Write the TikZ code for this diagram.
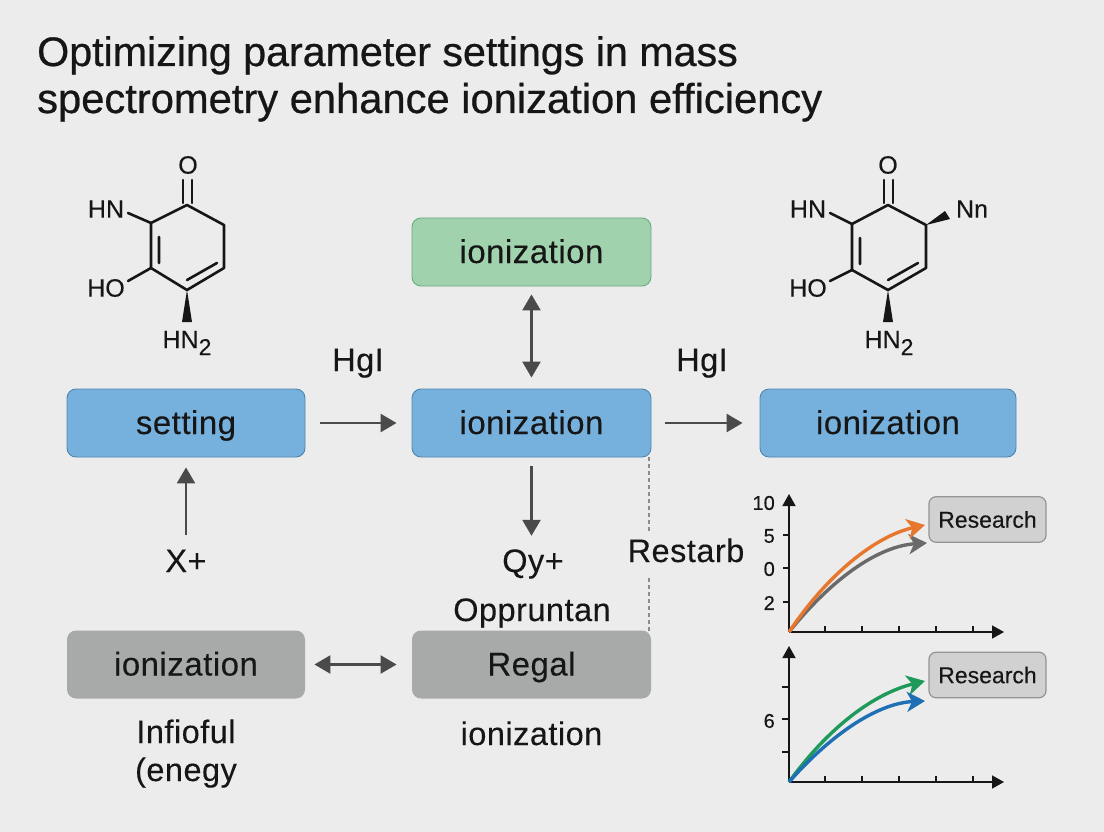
\documentclass[tikz,border=0pt]{standalone}
\usepackage{fontspec}
\setmainfont{Liberation Sans}
\newfontfamily\titlefont[FakeBold=0.6]{Liberation Sans}
\newfontfamily\boxfont[LetterSpace=1.5,FakeBold=0.2]{Liberation Sans}
\newfontfamily\atomfont[FakeBold=0.2]{Liberation Sans}
\usetikzlibrary{arrows.meta}
\definecolor{bgc}{HTML}{ECECEC}
\definecolor{bluef}{HTML}{76B0DC}
\definecolor{blued}{HTML}{4F86B0}
\definecolor{greenf}{HTML}{A0D2AE}
\definecolor{greend}{HTML}{6BAA80}
\definecolor{grayf}{HTML}{A8AAAA}
\definecolor{ink}{HTML}{161616}
\definecolor{conn}{HTML}{4A4A4A}
\definecolor{orangec}{HTML}{E8772E}
\definecolor{grayc}{HTML}{6A6A6A}
\definecolor{greenc}{HTML}{1E9A5A}
\definecolor{bluec}{HTML}{1F6FB5}
\tikzset{
  x=1pt,y=-1pt,
  flowbox/.style={rounded corners=9pt,minimum height=68pt,text=ink,font=\boxfont\fontsize{33}{36}\selectfont,inner sep=0pt,line width=0.9pt,text height=28pt,text depth=6pt},
  bluebox/.style={flowbox,fill=bluef,draw=blued},
  greenbox/.style={flowbox,fill=greenf,draw=greend},
  graybox/.style={flowbox,fill=grayf,draw=none},
  lab/.style={text=ink,font=\boxfont\fontsize{32.5}{36}\selectfont,inner sep=0pt,text height=22pt,text depth=2pt},
  atom/.style={text=ink,font=\atomfont\fontsize{25}{30}\selectfont,inner sep=0pt},
  small/.style={text=ink,font=\atomfont\fontsize{20}{24}\selectfont,inner sep=0pt},
  flow/.style={draw=conn,line width=2.6pt,-{Triangle[length=16pt,width=18pt]}},
  flowboth/.style={draw=conn,line width=2.6pt,{Triangle[length=16pt,width=18pt]}-{Triangle[length=16pt,width=18pt]}},
  bond/.style={draw=ink,line width=2.6pt,line cap=round},
  axis/.style={draw=ink,line width=1.7pt,-{Triangle[length=12pt,width=13pt]}},
  tick/.style={draw=ink,line width=1.4pt},
  curve/.style={line width=3.4pt,-{Stealth[length=18pt,width=20pt,inset=5pt]}},
  resbox/.style={rounded corners=7pt,fill=black!18,draw=black!42,line width=1.2pt,minimum width=117pt,minimum height=45.5pt,text=ink,font=\atomfont\fontsize{23}{28}\selectfont,inner sep=0pt},
}
\newcommand{\hnsub}{HN{\fontsize{23}{26}\selectfont\raisebox{-7pt}{2}}}
\begin{document}
\begin{tikzpicture}
\useasboundingbox (0,0) rectangle (1104,832);
\fill[bgc] (0,0) rectangle (1104,832);
% title
\node[anchor=base west,inner sep=0pt,text=ink,font=\titlefont\fontsize{41.2}{44}\selectfont] (t1) at (37,66) {Optimizing parameter settings in mass};
\node[anchor=base west,inner sep=0pt,text=ink,font=\titlefont\fontsize{41.7}{44}\selectfont] (t2) at (37,113) {spectrometry enhance ionization efficiency};
% flow boxes
\node[bluebox,minimum width=238pt] (setting) at (186,423) {setting};
\node[bluebox,minimum width=239pt] (mid) at (531.5,423) {ionization};
\node[bluebox,minimum width=256pt] (right) at (888,423) {ionization};
\node[greenbox,minimum width=239pt] (top) at (531.5,252) {ionization};
\node[graybox,minimum width=238pt] (grayl) at (186,664.5) {ionization};
\node[graybox,minimum width=239pt] (regal) at (531.5,664.5) {Regal};
% labels
\node[lab] (h1) at (358,361) {HgI};
\node[lab] (h2) at (702,361) {HgI};
\node[lab] (xp) at (186,562) {X+};
\node[lab] (qy) at (533,562) {Qy+};
\node[lab] (opp) at (532,611) {Oppruntan};
\node[lab] (rest) at (686,552) {Restarb};
\node[lab] (ion) at (531.5,735) {ionization};
\node[lab] (inf) at (186,733) {Infioful};
\node[lab] (ene) at (186,771) {(enegy};
% connectors
\draw[flow,shorten <=15pt,shorten >=15pt] (setting.east) -- (mid.west);
\draw[flow,shorten <=14pt,shorten >=17pt] (mid.east) -- (right.west);
\draw[flowboth,shorten <=8pt,shorten >=11pt] (top.south) -- (mid.north);
\draw[flow,shorten <=9pt,shorten >=14pt] (mid.south) -- (qy.north -| mid.south);
\draw[flow,shorten <=15pt,shorten >=10pt] (xp.north) -- (setting.south);
\draw[flowboth,shorten <=9pt,shorten >=15pt] (grayl.east) -- (regal.west);
\coordinate (d1) at (649,457);
\coordinate (d2) at (649,531);
\coordinate (d3) at (649,578);
\coordinate (d4) at (649,631);
\draw[draw=black!45,line width=1.6pt,dash pattern=on 4pt off 3pt] (d1) -- (d2);
\draw[draw=black!45,line width=1.6pt,dash pattern=on 4pt off 3pt] (d3) -- (d4);
% molecule left
\node[atom] (o1) at (188,165) {O};
\node[atom] (hn1) at (106,209) {HN};
\node[atom] (ho1) at (106,288) {HO};
\node[atom] (nh1) at (187,343) {\hnsub};
\draw[bond,line join=round] (187,205) -- (224,225) -- (224,268) -- (187,290) -- (151,268) -- (151,223) -- cycle;
\draw[bond] (183,203) -- (183,180) (192,203) -- (192,180);
\draw[bond] (159,237) -- (159,263) (187,280) -- (217,263);
\draw[bond] (151,223) -- (128,213) (151,268) -- (128,281);
\fill[ink] (187,290) -- (192,322) -- (182,322) -- cycle;
% molecule right
\node[atom] (o2) at (888,165) {O};
\node[atom] (hn2) at (808,209) {HN};
\node[atom] (ho2) at (808,288) {HO};
\node[atom] (nh2) at (889,343) {\hnsub};
\node[atom] (nn) at (972,209) {Nn};
\draw[bond,line join=round] (888,205) -- (926,225) -- (926,268) -- (888,290) -- (852,270) -- (852,224) -- cycle;
\draw[bond] (884,203) -- (884,180) (893,203) -- (893,180);
\draw[bond] (860,238) -- (860,264) (888,280) -- (918,263);
\draw[bond] (852,224) -- (830,213) (852,270) -- (830,281);
\fill[ink] (888,290) -- (893,322) -- (883,322) -- cycle;
\fill[ink] (926,225) -- (945,211) -- (950,219) -- cycle;
% upper chart
\coordinate (o) at (789,632);
\coordinate (ytop) at (789,494);
\coordinate (xend) at (1004,632);
\draw[axis] (o) -- (ytop);
\draw[axis] (o) -- (xend);
\foreach \x in {825,862,899,936,973} \draw[tick] (\x,632) -- (\x,626);
\foreach \y in {535,568,602} \draw[tick] (789,\y) -- (783,\y);
\node[small,anchor=east] (l10) at (775,503) {10};
\node[small,anchor=east] (l5) at (775,536) {5};
\node[small,anchor=east] (l0) at (775,569) {0};
\node[small,anchor=east] (l2) at (775,603) {2};
\node[resbox] (r1) at (987.5,519.5) {Research};
\coordinate (oe) at (925,525);
\coordinate (ge) at (927,543);
\draw[curve,draw=grayc] (o) .. controls (834,576) and (880,546) .. (ge);
\draw[curve,draw=orangec] (o) .. controls (832,568) and (880,535) .. (oe);
% lower chart
\coordinate (o2) at (789,782);
\coordinate (ytop2) at (789,646);
\coordinate (xend2) at (1004,782);
\draw[axis] (o2) -- (ytop2);
\draw[axis] (o2) -- (xend2);
\foreach \x in {825,862,899,936,973} \draw[tick] (\x,782) -- (\x,776);
\foreach \y in {687,719,752} \draw[tick] (789,\y) -- (782,\y);
\node[small,anchor=east] (l6) at (775,721) {6};
\node[resbox] (r2) at (987.5,675) {Research};
\coordinate (ne) at (925,681);
\coordinate (be) at (925,701);
\draw[curve,draw=greenc] (o2) .. controls (834,720) and (880,692) .. (ne);
\draw[curve,draw=bluec] (o2) .. controls (834,731) and (880,703) .. (be);
\end{tikzpicture}
\end{document}
